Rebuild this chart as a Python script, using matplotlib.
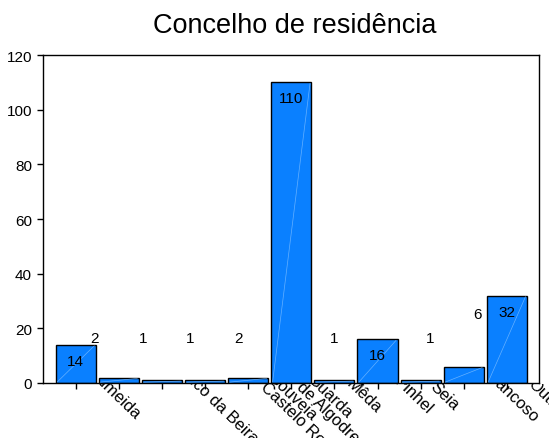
import matplotlib
matplotlib.use("Agg")
import matplotlib.pyplot as plt
from matplotlib.transforms import Bbox, TransformedBbox
import numpy as np

plt.rcParams['font.family'] = ['Liberation Sans', 'DejaVu Sans']

# Frequency of respondents by municipality of residence
title = "Concelho de residência"
concelhos = ["Almeida", "Celorico da Beira", "Figueira de Castelo Rodrigo",
             "Gouveia", "Fornos de Algodres", "Guarda", "Mêda", "Pinhel",
             "Seia", "Trancoso", "Outro"]
contagens = [14, 2, 1, 1, 2, 110, 1, 16, 1, 6, 32]
y_ticks = [0, 20, 40, 60, 80, 100, 120]

# Layout: centres of the slanted category labels (in category units)
label_centres = [0.96, 3.1, 4.6, 5.02, 5.45, 5.88, 6.67, 7.83, 8.55, 10.1, 10.9]

W, H = 549, 439
fig = plt.figure(figsize=(W / 100, H / 100), dpi=100)
ax = fig.add_axes([43 / W, 1 - 384 / H, (539 - 43) / W, (384 - 56) / H])

x = np.arange(len(contagens))
vals = np.array(contagens, dtype=float)
bars = ax.bar(x, vals, width=0.93, color='#0a80ff', edgecolor='black',
              linewidth=1.0, zorder=2)

# faint diagonal highlight across each bar
for b in bars:
    x0, w, h = b.get_x(), b.get_width(), b.get_height()
    ax.plot([x0 + 0.03, x0 + w - 0.03], [0.3, h - 0.3], color='#8cc6ff',
            lw=0.5, alpha=0.7, zorder=3, solid_capstyle='butt')

ax.set_xlim(-0.76, 10.745)
ax.set_ylim(0, 120)
ax.set_yticks(y_ticks)
ax.set_yticklabels([str(t) for t in y_ticks], fontsize=11)
ax.set_xticks(x)
ax.set_xticklabels([])
ax.tick_params(axis='both', direction='out', length=4, width=1, color='black')
ax.tick_params(axis='y', pad=4)
for s in ax.spines.values():
    s.set_linewidth(1.0)
    s.set_color('black')

# value labels
px = 0.72  # points per pixel at 100 dpi
for k, (xi, v) in enumerate(zip(x, vals)):
    if v >= 10:
        ax.annotate(f"{int(v)}", xy=(xi, v), xytext=(0, -16 * px),
                    textcoords='offset points', ha='center', va='center',
                    fontsize=11, zorder=4)
    else:
        dx = (-24 + 4.75 * (k - 1)) * px
        y_lab = max(16.5, v * 4.2)
        ax.annotate(f"{int(v)}", xy=(xi, y_lab), xytext=(dx, 0),
                    textcoords='offset points', ha='center', va='center',
                    fontsize=11, zorder=4)

# slanted category labels, shown only below the x axis
clip = TransformedBbox(Bbox([[0, 0], [1, 1 - 384.5 / H]]), fig.transFigure)
for name, xc in zip(concelhos, label_centres):
    t = ax.annotate(name, xy=(xc, 0), xycoords=('data', 'axes fraction'),
                    xytext=(0, -12 * px), textcoords='offset points',
                    ha='center', va='center', rotation=-44,
                    rotation_mode='anchor', fontsize=12,
                    annotation_clip=False)
    t.set_clip_on(True)
    t.set_clip_box(clip)

fig.text(295 / W, 1 - 33 / H, title, ha='center', va='baseline', fontsize=19.5)

fig.savefig("out.png", dpi=100)
